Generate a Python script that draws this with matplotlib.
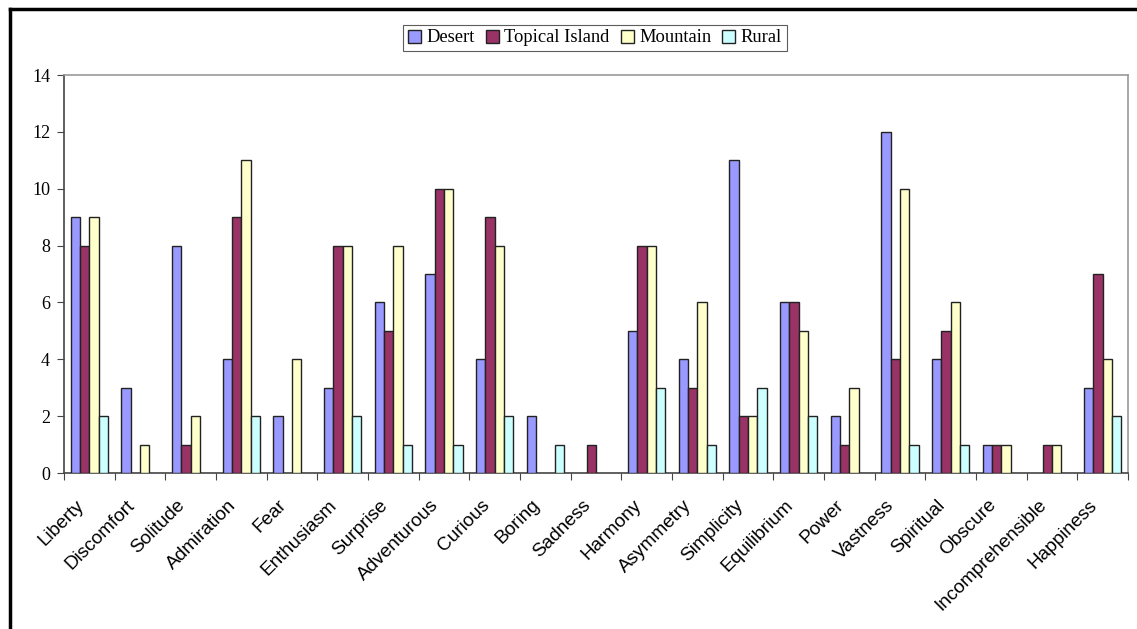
import matplotlib
matplotlib.use("Agg")
import matplotlib.pyplot as plt
import numpy as np
from matplotlib.lines import Line2D

categories = ["Liberty", "Discomfort", "Solitude", "Admiration", "Fear", "Enthusiasm",
              "Surprise", "Adventurous", "Curious", "Boring", "Sadness", "Harmony",
              "Asymmetry", "Simplicity", "Equilibrium", "Power", "Vastness", "Spiritual",
              "Obscure", "Incomprehensible", "Happiness"]
desert = [9, 3, 8, 4, 2, 3, 6, 7, 4, 2, 0, 5, 4, 11, 6, 2, 12, 4, 1, 0, 3]
tropical = [8, 0, 1, 9, 0, 8, 5, 10, 9, 0, 1, 8, 3, 2, 6, 1, 4, 5, 1, 1, 7]
mountain = [9, 1, 2, 11, 4, 8, 8, 10, 8, 0, 0, 8, 6, 2, 5, 3, 10, 6, 1, 1, 4]
rural = [2, 0, 0, 2, 0, 2, 1, 1, 2, 1, 0, 3, 1, 3, 2, 0, 1, 1, 0, 0, 2]
series_names = ["Desert", "Topical Island", "Mountain", "Rural"]
colors = ["#9999FF", "#993366", "#FFFFCC", "#CCFFFF"]
yticks = [0, 2, 4, 6, 8, 10, 12, 14]

fig = plt.figure(figsize=(11.37, 6.29), dpi=100)
ax = fig.add_axes([64/1137, 1-473/629, (1128-64)/1137, (473-75)/629])

n = len(categories)
x = np.arange(n)
w = 0.184
allvals = [desert, tropical, mountain, rural]
handles = []
for i, (vals, c, name) in enumerate(zip(allvals, colors, series_names)):
    b = ax.bar(x + (i - 1.5) * w, vals, width=w, color=c, edgecolor="#222222",
               linewidth=1.0, label=name, zorder=3)
    for p, v in zip(b.patches, vals):
        if v == 0:
            p.set_linewidth(0)
    handles.append(b)

ax.set_xlim(-0.5, n - 0.5)
ax.set_ylim(0, 14)
ax.set_yticks(yticks)
ax.set_yticklabels([str(t) for t in yticks], fontfamily="Liberation Serif", fontsize=13)
ax.set_xticks(np.arange(n + 1) - 0.5, minor=False)
ax.set_xticklabels([])
ax.set_xticks(x, minor=True)
ax.set_xticklabels(categories, minor=True, rotation=45, ha="right", va="top",
                   rotation_mode="anchor", fontfamily="Liberation Sans", fontsize=13.7)
ax.tick_params(axis="x", which="minor", length=0, pad=17)
ax.tick_params(axis="x", which="major", length=5, direction="out", color="#444444")
ax.tick_params(axis="y", length=5, direction="out", color="#444444", pad=5)
for lab in ax.get_xticklabels(minor=True):
    lab.set_transform(lab.get_transform() + matplotlib.transforms.ScaledTranslation(-0.14, 0, fig.dpi_scale_trans))

ax.spines["left"].set_color("#444444")
ax.spines["bottom"].set_color("#444444")
ax.spines["top"].set_color("#999999")
ax.spines["right"].set_color("#999999")
for s in ax.spines.values():
    s.set_linewidth(1.2)

leg = fig.legend(handles=handles, labels=series_names, loc="center",
                 bbox_to_anchor=(595/1137, 1-38/629), ncol=4, frameon=True,
                 fancybox=False, edgecolor="#333333", handlelength=0.7, handleheight=0.7,
                 handletextpad=0.3, columnspacing=0.6, borderpad=0.25,
                 prop={"family": "Liberation Serif", "size": 13.3})
leg.get_frame().set_linewidth(0.8)

# outer frame (left and top visible)
fig.add_artist(Line2D([10/1137, 10/1137], [0, 1-9/629], color="black", lw=2.5,
                      transform=fig.transFigure))
fig.add_artist(Line2D([10/1137, 1], [1-9/629, 1-9/629], color="black", lw=2.5,
                      transform=fig.transFigure))

fig.savefig("out.png", dpi=100)
